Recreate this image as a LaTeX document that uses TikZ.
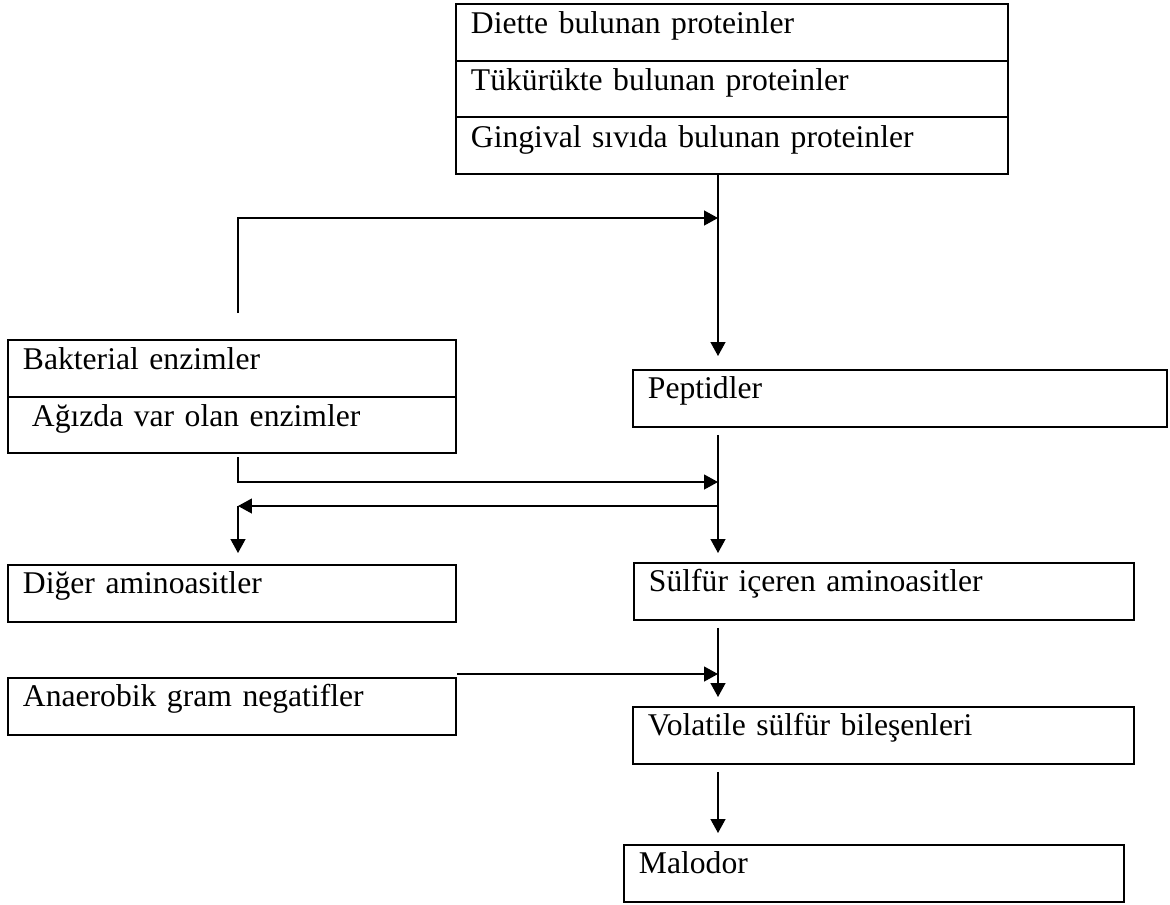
\documentclass[tikz,border=0pt]{standalone}
\usepackage{fontspec}
\setmainfont{Liberation Serif}
\usetikzlibrary{positioning, shapes.multipart, arrows.meta}
\newcommand{\rowstrut}{\rule[-0.56cm]{0pt}{1.14cm}}
\newcommand{\partstrut}{\rule[-0.515cm]{0pt}{1.095cm}}

\begin{document}
\begin{tikzpicture}[
    x=0.02cm, y=-0.02cm,
    every node/.style={font=\fontsize{18}{21}\selectfont},
    flowbox/.style={
        draw,
        line width=1.1pt,
        anchor=north west,
        inner xsep=0.3cm,
        inner ysep=0pt,
        align=left,
    },
    splitbox/.style={
        flowbox,
        rectangle split,
        rectangle split parts=#1,
    },
    flow/.style={
        -{Triangle[length=2.8mm, width=3mm]},
        line width=0.75pt,
    },
]

\useasboundingbox (0,0) rectangle (1170,904);

\node[splitbox=3, text width=10.44cm] (src) at (455,3) {
    \nodepart{one}\partstrut Diette bulunan proteinler
    \nodepart{two}\partstrut Tükürükte bulunan proteinler
    \nodepart{three}\partstrut Gingival sıvıda bulunan proteinler
};

\node[splitbox=2, text width=8.36cm] (enz) at (7,339) {
    \nodepart{one}\partstrut Bakterial enzimler
    \nodepart{two}\partstrut\hspace*{0.18cm}Ağızda var olan enzimler
};

\node[flowbox, text width=10.08cm] (pep) at (632,369) {\rowstrut Peptidler};
\node[flowbox, text width=8.36cm] (diger) at (7,564) {\rowstrut Diğer aminoasitler};
\node[flowbox, text width=9.4cm] (sulfur) at (633,562) {\rowstrut Sülfür içeren aminoasitler};
\node[flowbox, text width=8.36cm] (anaer) at (7,677) {\rowstrut Anaerobik gram negatifler};
\node[flowbox, text width=9.42cm] (vsc) at (632,706) {\rowstrut Volatile sülfür bileşenleri};
\node[flowbox, text width=9.4cm] (malodor) at (623,844) {\rowstrut Malodor};

\coordinate (enzUp) at (238,313);
\coordinate (enzDown) at (238,457);
\coordinate (feedIn) at (718,218);
\coordinate (feedIn2) at (718,482);
\coordinate (splitOut) at (718,506);
\coordinate (splitLeft) at (238,506);
\coordinate (anaerIn) at (718,674);

\draw[flow, shorten >=0.26cm] (src.south -| feedIn) -- (feedIn |- pep.north);
\draw[flow] (enzUp) |- (feedIn);
\draw[flow] (enzDown) |- (feedIn2);
\draw[flow, shorten <=0.14cm, shorten >=0.18cm] (feedIn |- pep.south) -- (feedIn |- sulfur.north);
\draw[flow] (splitOut) -- (splitLeft);
\draw[flow, shorten >=0.22cm] (splitLeft) -- (splitLeft |- diger.north);
\draw[flow] (anaer.north east |- anaerIn) -- (anaerIn);
\draw[flow, shorten <=0.14cm, shorten >=0.18cm] (feedIn |- sulfur.south) -- (feedIn |- vsc.north);
\draw[flow, shorten <=0.14cm, shorten >=0.22cm] (feedIn |- vsc.south) -- (feedIn |- malodor.north);

\end{tikzpicture}
\end{document}
